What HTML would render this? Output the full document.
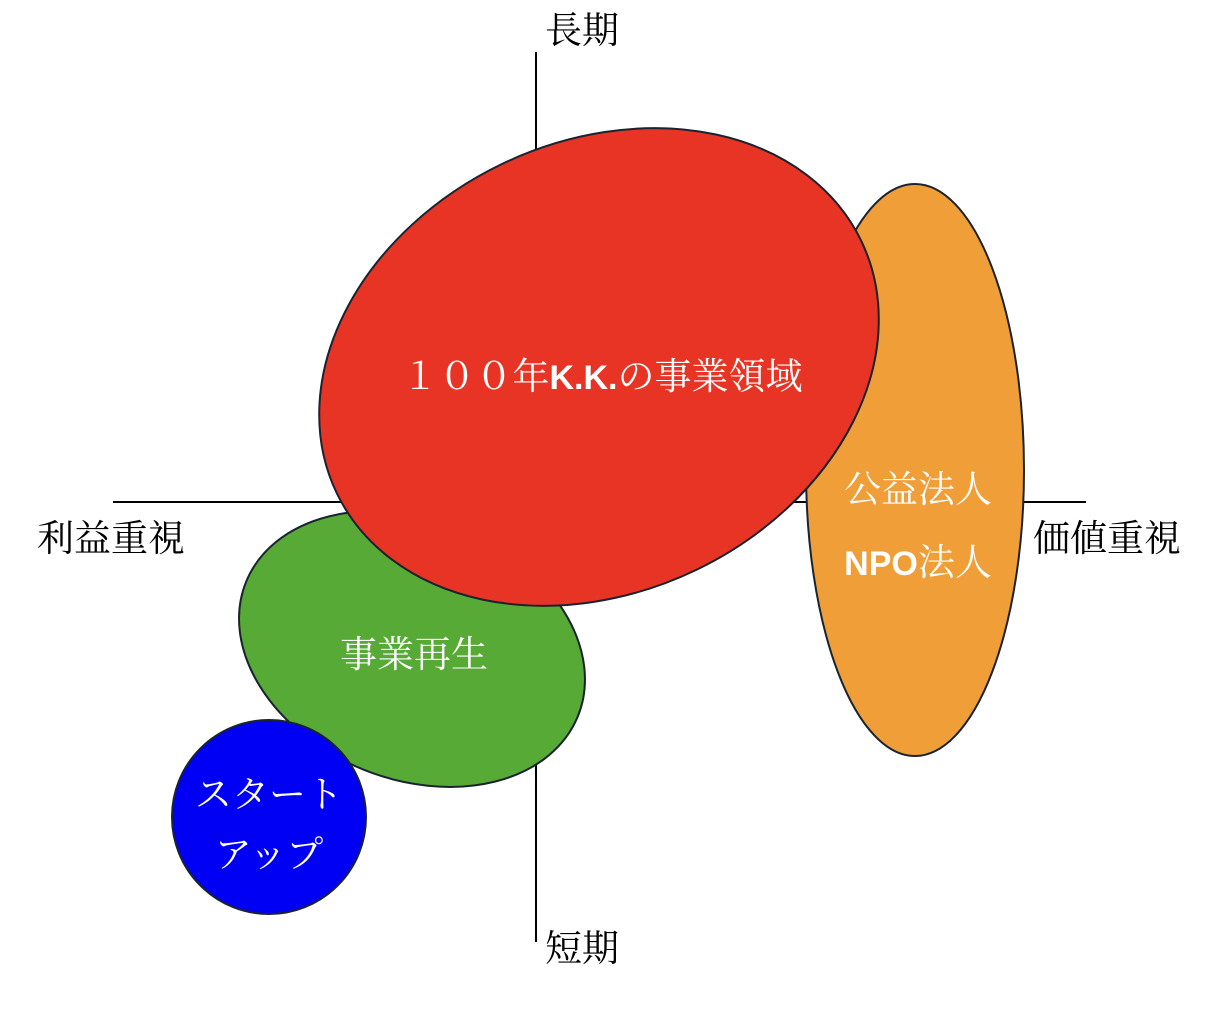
<!DOCTYPE html>
<html><head><meta charset="utf-8"><style>
body{margin:0;background:#fff;}
svg{display:block;}
text{font-family:"Liberation Serif","Noto Serif CJK SC",serif;font-size:37px;}
</style></head><body>
<svg width="1226" height="1024" viewBox="0 0 1226 1024">
<line x1="536" y1="52" x2="536" y2="942" stroke="#000" stroke-width="2"/>
<line x1="113" y1="502" x2="1086" y2="502" stroke="#000" stroke-width="2"/>
<ellipse cx="915" cy="470" rx="109" ry="286" fill="#f09e38" stroke="#1a2330" stroke-width="2"/>
<ellipse cx="0" cy="0" rx="179" ry="130" transform="translate(412,649) rotate(22)" fill="#57aa35" stroke="#1a2330" stroke-width="2"/>
<circle cx="269" cy="817" r="97" fill="#0000f5" stroke="#1a2330" stroke-width="2"/>
<ellipse cx="0" cy="0" rx="291" ry="225" transform="translate(599,367) rotate(-25.7)" fill="#e83424" stroke="#1a2330" stroke-width="2"/>
<g fill="#000">
<text x="545" y="43">長期</text>
<text x="545" y="961">短期</text>
<text x="37" y="551">利益重視</text>
<text x="1033" y="551">価値重視</text>
</g>
<g fill="#fff" text-anchor="middle">
<text x="602" y="389">１００年<tspan font-family="Liberation Sans,sans-serif" font-weight="bold" font-size="34">K.K.</tspan>の事業領域</text>
<text x="918" y="502">公益法人</text>
<text x="918" y="575"><tspan font-family="Liberation Sans,sans-serif" font-weight="bold" font-size="34">NPO</tspan>法人</text>
<text x="414" y="667">事業再生</text>
<text x="269" y="807">スタート</text>
<text x="269" y="867">アップ</text>
</g>
</svg>
</body></html>
